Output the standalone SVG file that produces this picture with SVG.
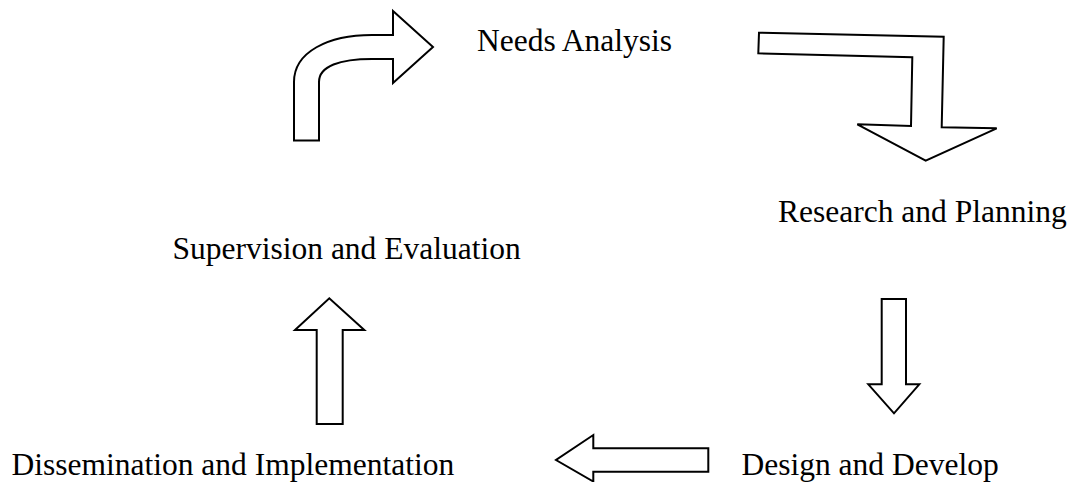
<svg xmlns="http://www.w3.org/2000/svg" width="1075" height="482" viewBox="0 0 1075 482">
<style>
.arr{fill:#fff;stroke:#000;stroke-width:2;stroke-linejoin:miter}
.lbl{font-family:"Liberation Serif","Times New Roman",serif;font-size:31.5px;fill:#000}
</style>
<rect width="1075" height="482" fill="#fff"/>
<g id="connectors">
<path class="arr" d="M294,140.5 L294,82 C294,52 328,35 372,35 L393,35 L393,11 L433,47 L393,83 L393,59 L372,59 C340,59 319,66 319,82 L319,140.5 Z"/>
<polygon class="arr" points="759,32.7 943.7,36.7 941.7,127.3 996.7,128.3 925.7,160.7 857.3,124.3 911,126 912.3,57.3 758.3,53.3"/>
<polygon class="arr" points="881.7,299 906,299 906,384.3 919.3,384.3 894,413.3 868.3,384.3 881.7,384.3"/>
<polygon class="arr" points="708.3,448.3 708.3,471.7 593.3,471.7 593.3,481.5 556,460 593.3,435 593.3,448.3"/>
<polygon class="arr" points="316.7,424 342.7,424 342.7,330 364.3,330 329.3,298.3 295,330 316.7,330"/>
</g>
<g id="needs-analysis"><text class="lbl" x="477" y="51">Needs Analysis</text></g>
<g id="research-planning"><text class="lbl" x="778" y="221.7">Research and Planning</text></g>
<g id="design-develop"><text class="lbl" x="741.5" y="475">Design and Develop</text></g>
<g id="dissemination-implementation"><text class="lbl" x="11.5" y="475">Dissemination and Implementation</text></g>
<g id="supervision-evaluation"><text class="lbl" x="172.5" y="259.3">Supervision and Evaluation</text></g>
</svg>
